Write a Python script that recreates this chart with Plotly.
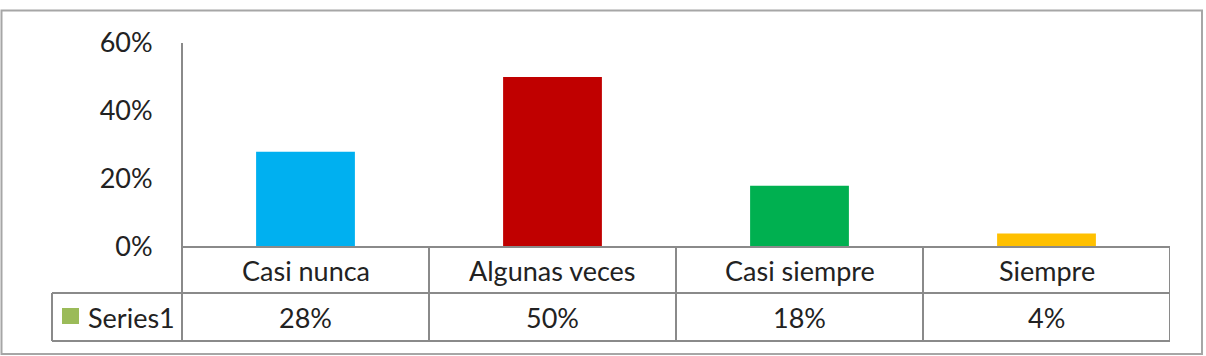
import plotly.graph_objects as go

categories = ["Casi nunca", "Algunas veces", "Casi siempre", "Siempre"]
values = [0.28, 0.50, 0.18, 0.04]
value_labels = ["28%", "50%", "18%", "4%"]
bar_colors = ["#00B0F0", "#C00000", "#00B050", "#FFC000"]
series_name = "Series1"
series_key_color = "#9BBB59"
y_ticks = [0, 0.2, 0.4, 0.6]
y_tick_labels = ["0%", "20%", "40%", "60%"]

W, H = 1206, 356
FONT = "Lato"
FS = 27
TXT = "#222222"
GRID = "#8a8a8a"

def px(x):
    return x / W

def py(y):
    return 1 - y / H

x_left, x_right = 182, 1170
y_top, y_zero = 43, 247
row1, row2 = 293, 341
legend_left = 52

fig = go.Figure()
fig.add_trace(go.Bar(
    x=list(range(len(categories))), y=values,
    marker=dict(color=bar_colors, line=dict(width=0)),
    width=0.4, showlegend=False, hoverinfo="skip",
))

n = len(categories)
fig.update_layout(
    width=W, height=H, autosize=False,
    margin=dict(l=0, r=0, t=0, b=0, pad=0, autoexpand=False),
    showlegend=False,
    paper_bgcolor="white", plot_bgcolor="white",
    font=dict(family=FONT, size=FS, color=TXT),
    xaxis=dict(domain=[px(x_left), px(x_right)], range=[-0.5, n - 0.5],
               showticklabels=False, showgrid=False, zeroline=False,
               showline=False, fixedrange=True, automargin=False),
    yaxis=dict(domain=[py(y_zero), py(y_top)], range=[0, 0.6],
               tickvals=y_ticks, ticktext=y_tick_labels,
               ticks="outside", ticklen=23, tickcolor="rgba(0,0,0,0)",
               showgrid=False, zeroline=False, showline=False, automargin=False,
               tickfont=dict(family=FONT, size=FS, color=TXT), fixedrange=True),
)

line = dict(color=GRID, width=2)
shapes = []
# outer chart border
shapes.append(dict(type="rect", xref="paper", yref="paper",
                   x0=px(1.5), x1=px(1202), y0=py(354), y1=py(10.5),
                   line=dict(color="#a6a6a6", width=2)))
# vertical axis line extended through table
shapes.append(dict(type="line", xref="paper", yref="paper",
                   x0=px(x_left), x1=px(x_left), y0=py(y_top), y1=py(row2), line=line))
# horizontal table lines
shapes.append(dict(type="line", xref="paper", yref="paper",
                   x0=px(x_left), x1=px(x_right), y0=py(y_zero), y1=py(y_zero), line=line))
for yy in (row1, row2):
    shapes.append(dict(type="line", xref="paper", yref="paper",
                       x0=px(legend_left), x1=px(x_right), y0=py(yy), y1=py(yy), line=line))
# legend cell left border
shapes.append(dict(type="line", xref="paper", yref="paper",
                   x0=px(legend_left), x1=px(legend_left), y0=py(row1), y1=py(row2), line=line))
# column dividers
for i in range(1, n + 1):
    shapes.append(dict(type="line", xref="x", yref="paper",
                       x0=i - 0.5, x1=i - 0.5, y0=py(y_zero), y1=py(row2), line=line))
# legend key
shapes.append(dict(type="rect", xref="paper", yref="paper",
                   x0=px(62), x1=px(79), y0=py(324), y1=py(308),
                   fillcolor=series_key_color, line=dict(width=0)))

annotations = []
for i, (c, v) in enumerate(zip(categories, value_labels)):
    annotations.append(dict(x=i, xref="x", y=py((y_zero + row1) / 2), yref="paper",
                            text=c, showarrow=False, xanchor="center", yanchor="middle"))
    annotations.append(dict(x=i, xref="x", y=py((row1 + row2) / 2), yref="paper",
                            text=v, showarrow=False, xanchor="center", yanchor="middle"))
annotations.append(dict(x=px(86), xref="paper", y=py((row1 + row2) / 2), yref="paper",
                        text=series_name, showarrow=False, xanchor="left", yanchor="middle"))

fig.update_layout(shapes=shapes, annotations=annotations)
fig.write_html("out.html")
